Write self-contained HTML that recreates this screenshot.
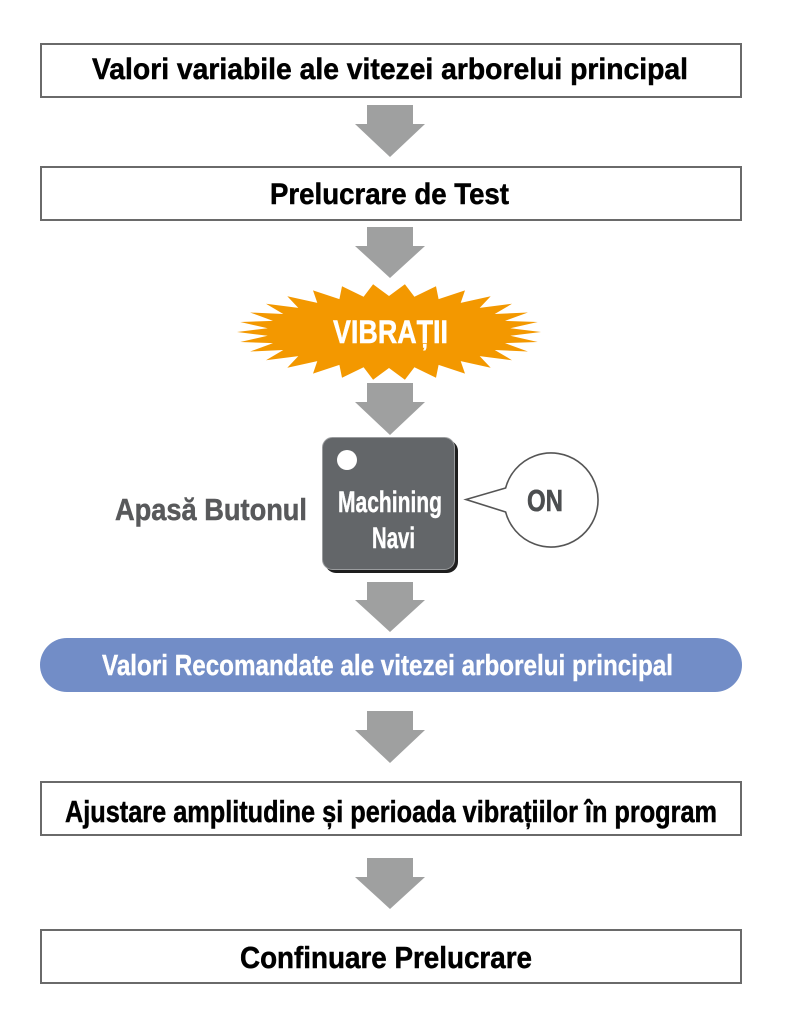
<!DOCTYPE html>
<html>
<head>
<meta charset="utf-8">
<style>
  html, body { margin: 0; padding: 0; background: #ffffff; }
  body { width: 790px; height: 1024px; overflow: hidden; }
  svg { display: block; }
  text { font-family: "Liberation Sans", Arial, sans-serif; font-weight: bold; }
  .blk { fill: #000; stroke: #000; stroke-width: 0.5; }
</style>
</head>
<body>
<svg width="790" height="1024" viewBox="0 0 790 1024" xmlns="http://www.w3.org/2000/svg">
  <!-- Box 1 -->
  <rect x="41" y="44" width="700" height="53" fill="#ffffff" stroke="#6a6a6a" stroke-width="2"/>
  <text class="blk" x="92" y="79" font-size="30" textLength="596" lengthAdjust="spacingAndGlyphs">Valori variabile ale vitezei arborelui principal</text>

  <!-- Arrow 1 -->
  <polygon points="367,105 413,105 413,124 425,124 390,157 355,124 367,124" fill="#9fa0a0"/>

  <!-- Box 2 -->
  <rect x="41" y="167" width="700" height="53" fill="#ffffff" stroke="#6a6a6a" stroke-width="2"/>
  <text class="blk" x="270" y="204" font-size="30" textLength="239" lengthAdjust="spacingAndGlyphs">Prelucrare de Test</text>

  <!-- Arrow 2 -->
  <polygon points="367,227 413,227 413,246 425,246 390,278 355,246 367,246" fill="#9fa0a0"/>

  <!-- Starburst -->
  <polygon fill="#f39800" points="
    541,332 510.3,328.2 537.7,322.0 505.0,320.9 527.9,312.5 494.7,314.0 512.0,303.8 479.7,307.9
    490.7,296.3 460.7,302.9 465,290.4 438.6,299.1 436.0,286.3 414.4,296.8 404.9,284.3 389,296
    373.1,284.3 363.6,296.8 342.0,286.3 339.4,299.1 313,290.4 317.3,302.9 287.3,296.3 298.3,307.9
    266.0,303.8 283.3,314.0 250.1,312.5 273.0,320.9 240.3,322.0 267.7,328.2 237,332 267.7,335.8
    240.3,342.0 273.0,343.1 250.1,351.5 283.3,350.0 266.0,360.2 298.3,356.1 287.3,367.7 317.3,361.1
    313,373.6 339.4,364.9 342.0,377.7 363.6,367.2 373.1,379.7 389,368 404.9,379.7 414.4,367.2
    436.0,377.7 438.6,364.9 465,373.6 460.7,361.1 490.7,367.7 479.7,356.1 512.0,360.2 494.7,350.0
    527.9,351.5 505.0,343.1 537.7,342.0 510.3,335.8"/>
  <text x="333" y="343" font-size="32" fill="#ffffff" stroke="#ffffff" stroke-width="0.5" textLength="115" lengthAdjust="spacingAndGlyphs">VIBRAȚII</text>

  <!-- Arrow 3 -->
  <polygon points="367,383 413,383 413,402 425,402 390,435 355,402 367,402" fill="#9fa0a0"/>

  <!-- Apasă Butonul -->
  <text x="115" y="520" font-size="31" fill="#58595b" stroke="#58595b" stroke-width="0.5" textLength="192" lengthAdjust="spacingAndGlyphs">Apasă Butonul</text>

  <!-- Button -->
  <rect x="325" y="440" width="133" height="133" rx="11" ry="11" fill="#1e1e1e"/>
  <rect x="322.5" y="437.5" width="132" height="132" rx="10" ry="10" fill="#636669" stroke="#9a9c9e" stroke-width="1"/>
  <circle cx="347" cy="460" r="10" fill="#ffffff"/>
  <text x="338" y="512" font-size="30" fill="#ffffff" stroke="#ffffff" stroke-width="0.4" textLength="104" lengthAdjust="spacingAndGlyphs">Machining</text>
  <text x="372" y="548" font-size="30" fill="#ffffff" stroke="#ffffff" stroke-width="0.4" textLength="43" lengthAdjust="spacingAndGlyphs">Navi</text>

  <!-- Speech bubble -->
  <path d="M505.6,488 L466,499.5 L505.6,512 A47,47 0 1,0 505.6,488 Z" fill="#ffffff" stroke="#555555" stroke-width="1.6" stroke-linejoin="miter"/>
  <text x="527" y="511" font-size="31" fill="#4c4e50" stroke="#4c4e50" stroke-width="0.6" textLength="36" lengthAdjust="spacingAndGlyphs">ON</text>

  <!-- Arrow 4 -->
  <polygon points="367,582 413,582 413,600 425,600 390,632 355,600 367,600" fill="#9fa0a0"/>

  <!-- Blue pill -->
  <rect x="40" y="638" width="702" height="54" rx="27" ry="27" fill="#728dc7"/>
  <text x="102" y="675" font-size="29" fill="#ffffff" stroke="#ffffff" stroke-width="0.4" textLength="571" lengthAdjust="spacingAndGlyphs">Valori Recomandate ale vitezei arborelui principal</text>

  <!-- Arrow 5 -->
  <polygon points="367,711 413,711 413,730 425,730 390,763 355,730 367,730" fill="#9fa0a0"/>

  <!-- Box 3 -->
  <rect x="41" y="782" width="700" height="53" fill="#ffffff" stroke="#6a6a6a" stroke-width="2"/>
  <text class="blk" x="65" y="822" font-size="31" textLength="652" lengthAdjust="spacingAndGlyphs">Ajustare amplitudine și perioada vibrațiilor în program</text>

  <!-- Arrow 6 -->
  <polygon points="367,858 413,858 413,877 425,877 390,909 355,877 367,877" fill="#9fa0a0"/>

  <!-- Box 4 -->
  <rect x="41" y="930" width="700" height="53" fill="#ffffff" stroke="#6a6a6a" stroke-width="2"/>
  <text class="blk" x="240" y="968" font-size="31" textLength="292" lengthAdjust="spacingAndGlyphs">Confinuare Prelucrare</text>
</svg>
</body>
</html>
